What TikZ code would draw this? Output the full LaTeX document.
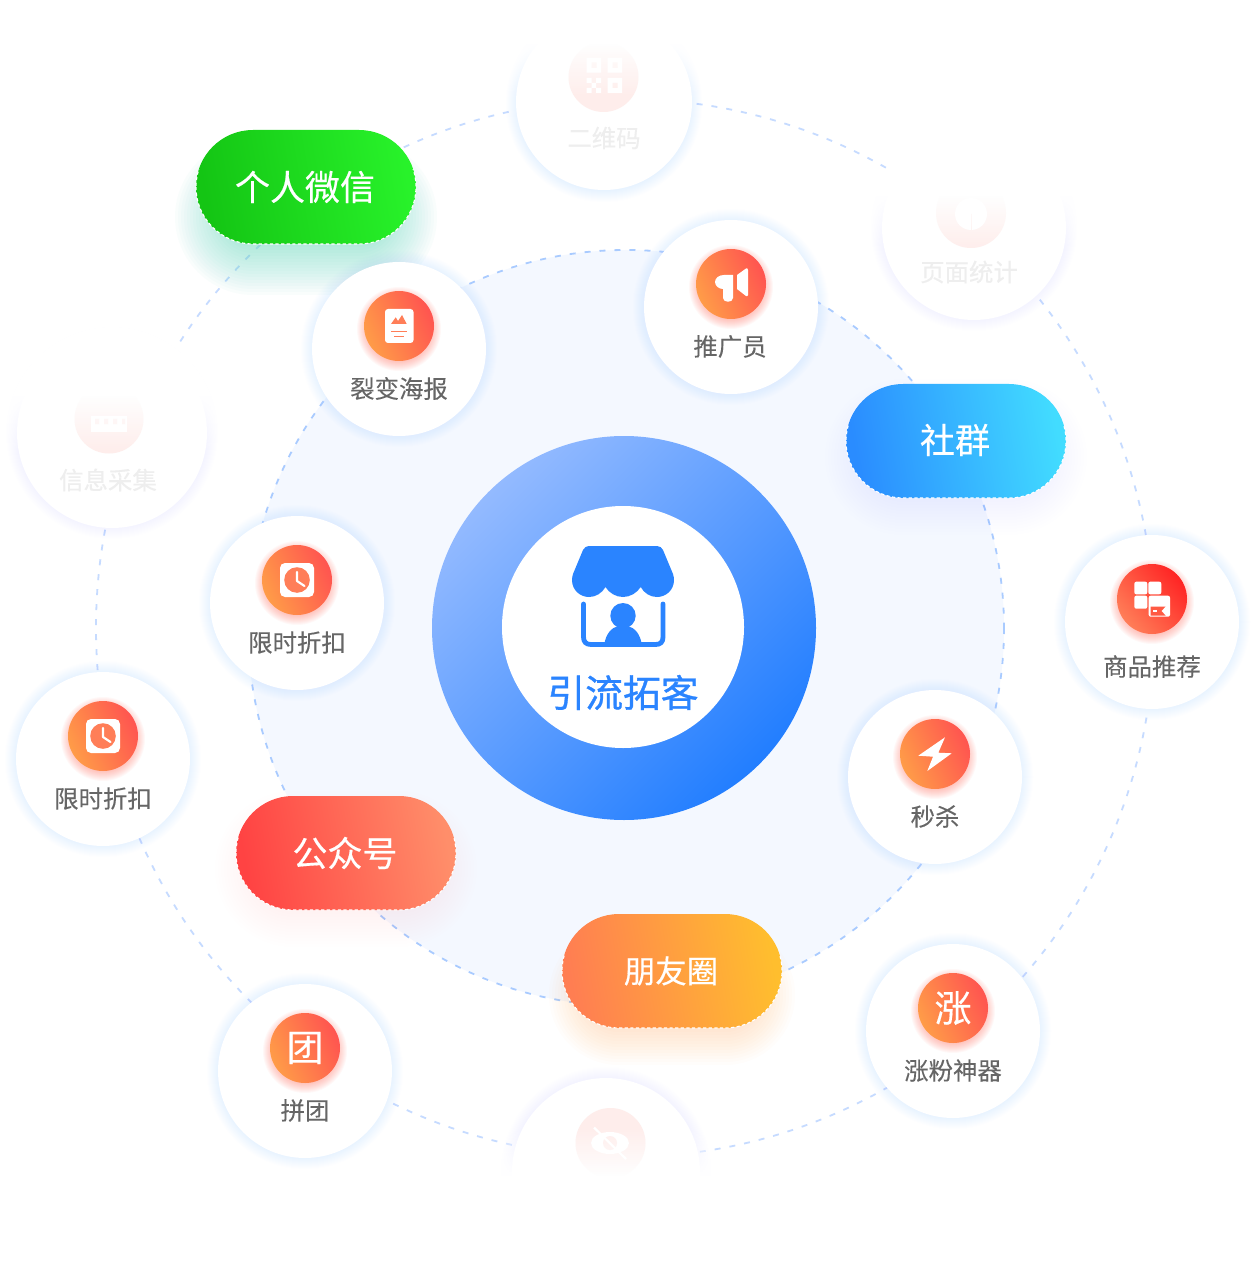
\documentclass[tikz,border=0pt]{standalone}
\usepackage{fontspec}
\newfontfamily\cjk{Noto Sans CJK SC}[FakeBold=0.2]
\newfontfamily\cjkp{Noto Sans CJK SC}[FakeBold=0.4]
\newfontfamily\cjkm{Noto Sans CJK SC}[FakeBold=0.9]
\definecolor{dashA}{HTML}{A9CBFF}
\definecolor{dashB}{HTML}{C6DBFF}
\definecolor{paleBg}{HTML}{F4F8FF}
\definecolor{shadowB}{HTML}{B0D0FF}
\definecolor{iconA}{HTML}{FF9C48}
\definecolor{iconB}{HTML}{FF5450}
\definecolor{iconC}{HTML}{FF7E58}
\definecolor{iconD}{HTML}{FF2424}
\definecolor{glow}{HTML}{FF5A48}
\definecolor{pink}{HTML}{FEEDEB}
\definecolor{labelG}{HTML}{666666}
\definecolor{fadeG}{HTML}{EEEEEE}
\definecolor{brand}{HTML}{2A84FF}
\definecolor{ringA}{HTML}{93BAFF}
\definecolor{ringB}{HTML}{227EFF}
\definecolor{shGreen}{HTML}{5AD8BE}
\definecolor{shBlue}{HTML}{3A9CFF}
\definecolor{shRed}{HTML}{FF6A5A}
\definecolor{shOrange}{HTML}{FFA24A}
\definecolor{pgA}{HTML}{14C514}
\definecolor{pgB}{HTML}{28F22A}
\definecolor{pbA}{HTML}{2A8CFF}
\definecolor{pbB}{HTML}{42DCFF}
\definecolor{prA}{HTML}{FF4343}
\definecolor{prB}{HTML}{FF8E6A}
\definecolor{poA}{HTML}{FF7E52}
\definecolor{poB}{HTML}{FFBE2E}
\tikzset{
  lab/.style={font=\cjk\fontsize{12.2}{14}\selectfont,text=labelG,inner sep=0pt},
  fadelab/.style={font=\cjk\fontsize{12.2}{14}\selectfont,text=fadeG,inner sep=0pt},
  pilltxt/.style={font=\cjkp\fontsize{#1}{20}\selectfont,text=white,inner sep=0pt},
  icongrad/.style={bottom color=iconA,top color=iconB,shading angle=-65},
  icongradred/.style={bottom color=iconC,top color=iconD,shading angle=-50},
  pillbody/.style={rounded corners=28.5pt,draw=white,line width=.55pt,dash pattern=on 1.6pt off 1.2pt},
  orbit/.style={line width=.9pt,dash pattern=on 3pt off 4.5pt}
}
% soft round shadow: x y r colour opacity
\newcommand\softdisc[5]{\foreach \k in {0,...,11}{\fill[#4,fill opacity=#5] (#1,#2) circle[radius=#3+\k];}}
\newcommand\softglow[2]{\foreach \k in {0,...,11}{\fill[glow,fill opacity=.04] (#1,#2+3) circle[radius=31+\k];}}
% soft pill shadow: cx cy colour opacity dy base-radius
\newcommand\softpill[6]{\foreach \k in {0,3,...,48}{\draw[#3,draw opacity=#4,line cap=round,line width=(#6+\k)*1pt] (#1-53,#2+#5)--(#1+53,#2+#5);}}
% white satellite: name x y
\newcommand\sat[3]{\softdisc{#2}{#3}{87}{shadowB}{.021}\fill[white] (#2,#3) circle[radius=87];\coordinate (#1) at (#2,#3);}
\newcommand\clockicon[2]{\begin{scope}[shift={(#1,#2)}]
  \fill[white,rounded corners=2.5pt] (-17,-17) rectangle (17,17);
  \fill[iconC] (0,0) circle[radius=12.8];
  \draw[white,line width=1.1pt,line cap=round,line join=round] (0,-8)--(0,1)--(7.5,6);
\end{scope}}
% fade by white strips: cx cy clip-radius y0 direction count
\newcommand\fadeband[6]{\begin{scope}\clip (#1,#2) circle[radius=#3];
  \ifnum#5>0 \fill[white] (#1-#3,#2-#3) rectangle (#1+#3,#4);
  \else \fill[white] (#1-#3,#2+#3) rectangle (#1+#3,#4);\fi
  \foreach \k in {1,...,#6}{\pgfmathsetmacro\op{1-\k/(#6+1)}
    \fill[white,fill opacity=\op] (#1-#3,#4+#5*\k*2-#5*2) rectangle (#1+#3,#4+#5*\k*2);}
\end{scope}}
% pill: left top colourA colourB ; dashed rim only on its lower part
\newcommand\pill[4]{\shade[bottom color=#3,top color=#4,shading angle=-80,rounded corners=28.5pt] (#1,#2) rectangle (#1+220,#2+114);
  \begin{scope}\clip (#1-2,#2+40) rectangle (#1+222,#2+116);\draw[pillbody] (#1,#2) rectangle (#1+220,#2+114);\end{scope}}
\begin{document}
\begin{tikzpicture}[x=0.5pt,y=-0.5pt]
\useasboundingbox (0,0) rectangle (1258,1272);
\fill[white] (0,0) rectangle (1258,1272);
% outer orbit
\draw[dashB,orbit] (625,628) circle[radius=529];
% faded satellites
\softdisc{604}{104}{87}{shadowB}{.018}
\fill[white] (604,102) circle[radius=88];
\fill[pink] (603.5,77) circle[radius=35];
\fill[white] (586.5,58) rectangle (601,72.7) (607.7,58) rectangle (622,72.7) (607.7,78) rectangle (622,93);
\fill[pink] (591.5,62.5) rectangle (596.5,68) (612.5,62.5) rectangle (617.5,68) (612.5,83) rectangle (617.5,88);
\fill[white] (586.5,78) rectangle (591.5,83) (596,78) rectangle (601,83) (591.5,83) rectangle (596,88) (586.5,88) rectangle (591.5,93) (596,88) rectangle (601,93);
\node[fadelab] (qrlab) at (604,138) {二维码};
\fadeband{604}{102}{100}{44}{1}{26}

\softdisc{974}{228}{92}{shadowB}{.007}
\fill[white] (974,228) circle[radius=92];
\fill[pink] (971,213) circle[radius=35];
\fill[white] (971,214) circle[radius=16];
\draw[pink,line width=.5pt] (971,214)--(971,231);
\node[fadelab] (statlab) at (969,272) {页面统计};
\fadeband{974}{228}{105}{196}{1}{27}

\softdisc{112}{433}{95}{shadowB}{.004}
\fill[white] (112,433) circle[radius=95];
\fill[pink] (109,419) circle[radius=34.5];
\fill[white] (91,416) rectangle (127,432);
\fill[pink] (95,419) rectangle (99,424) (104,419) rectangle (108,424) (113,419) rectangle (117,424) (122,419) rectangle (125,424);
\node[fadelab] (infolab) at (108,480) {信息采集};
\fadeband{112}{433}{106}{396}{1}{28}

\softdisc{606}{1172}{94}{shadowB}{.012}
\fill[white] (606,1172) circle[radius=94];
\fill[pink] (610.5,1143) circle[radius=35];
\fill[white] (610,1143) ellipse[x radius=19,y radius=11];
\fill[pink] (610,1143) circle[radius=7];
\draw[white,line width=1.1pt] (594,1127.5)--(626,1159);
\fadeband{606}{1172}{108}{1176}{-1}{24}
% inner pale disc
\fill[paleBg] (626,628) circle[radius=378];
\draw[dashA,orbit] (626,628) circle[radius=378];
% shadows of pills
\softpill{306}{187}{shGreen}{.03}{30}{30}
\softpill{956}{441}{shBlue}{.005}{16}{30}
\softpill{346}{853}{shRed}{.005}{16}{30}
\softpill{672}{971}{shOrange}{.02}{24}{22}
% centre
\path[shade,bottom color=ringA,top color=ringB,shading angle=-135] (624,628) circle[radius=192];
\fill[white] (623,627) circle[radius=121];
\fill[brand] (590,546)--(657,546) .. controls (660,546) and (662,548) .. (663,550)--(673,574) .. controls (673.6,576) and (674,578) .. (674,580) .. controls (674,590) and (666,597) .. (657,597) .. controls (650,597) and (644,593) .. (640.7,587) .. controls (637,593) and (630,597) .. (623,597) .. controls (616,597) and (609,593) .. (605.5,587) .. controls (602,593) and (596,597) .. (589,597) .. controls (580,597) and (572,590) .. (572,580) .. controls (572,578) and (572.5,576) .. (573,574)--(583,550) .. controls (584,548) and (586,546) .. (590,546)--cycle;
\draw[brand,line width=2.4pt,line cap=round] (583.5,604)--(583.5,637) .. controls (583.5,642) and (586,644.5) .. (591,644.5)--(655.5,644.5) .. controls (660.5,644.5) and (663,642) .. (663,637)--(663,604);
\fill[brand] (623,615.7) circle[radius=12.7];
\fill[brand] (604.3,644)  .. controls (606,634) and (611,628) .. (618,626)--(628,626) .. controls (635,628) and (640,634) .. (641.7,644)--cycle;
\node[font=\cjkm\fontsize{18.9}{20}\selectfont,text=brand,inner sep=0pt] (core) at (623,692.5) {引流拓客};
% satellites
\sat{tg}{731}{307}
\softglow{731}{284}\path[shade,icongrad] (731,284) circle[radius=35];
\fill[white] (733,275)--(724,275) .. controls (719,275) and (715,278) .. (715,282) .. controls (715,286) and (719,289) .. (723,289)--(723,298) .. controls (723,303) and (733,303) .. (733,298)--cycle;
\fill[white] (737,275)--(746,268.5) .. controls (747,268) and (748,268.5) .. (748,270)--(748,295) .. controls (748,296) and (747,296.5) .. (746,296)--(737,289)--cycle;
\node[lab] (tgl) at (730,346.5) {推广员};

\sat{lb}{399}{349}
\softglow{399}{326}\path[shade,icongrad] (399,326) circle[radius=35];
\fill[white,rounded corners=1.5pt] (385,309) rectangle (413.5,343);
\fill[iconC] (391,324)--(395.7,317.3)--(398,321)--(402,315)--(406.7,324)--cycle;
\draw[iconC,line width=.5pt] (391,331.5)--(407,331.5) (394,336.5)--(404,336.5);
\node[lab] (lbl) at (399,388.5) {裂变海报};

\sat{xs}{297}{603}
\softglow{297}{580}\path[shade,icongrad] (297,580) circle[radius=35];
\clockicon{297}{580}
\node[lab] (xsl) at (297,642.5) {限时折扣};

\sat{ms}{935}{777}
\softglow{935}{754}\path[shade,icongrad] (935,754) circle[radius=35];
\fill[white] (945,737.3)--(918.3,755.7)--(933,756.7)--(927.3,771)--(951.7,753.3)--(938.3,752.7)--cycle;
\node[lab] (msl) at (935,816.5) {秒杀};

\sat{sp}{1152}{622}
\softglow{1152}{599}\path[shade,icongradred] (1152,599) circle[radius=35];
\fill[white,rounded corners=1pt] (1134.3,581.7) rectangle (1147.3,594.3) (1148.3,581.7) rectangle (1161.3,594.3) (1134.3,595.7) rectangle (1147.3,608.7) (1148.7,595.7) rectangle (1170,616.7);
\fill[iconC!60!iconD] (1150.5,606.5)--(1165.5,606.5)--(1161.5,611)--(1165.5,615.5)--(1150.5,615.5)--cycle;
\fill[white] (1153,610) rectangle (1157,611.5);
\node[lab] (spl) at (1152,666.5) {商品推荐};

\sat{xw}{103}{759}
\softglow{103}{736}\path[shade,icongrad] (103,736) circle[radius=35];
\clockicon{103}{736}
\node[lab] (xwl) at (103,798.5) {限时折扣};

\sat{pt}{305}{1071}
\softglow{305}{1048}\path[shade,icongrad] (305,1048) circle[radius=35];
\node[pilltxt=18.4] (pti) at (305,1048) {团};
\node[lab] (ptl) at (305,1110.5) {拼团};

\sat{zf}{953}{1031}
\softglow{953}{1008}\path[shade,icongrad] (953,1008) circle[radius=35];
\node[pilltxt=18.5] (zfi) at (953,1008) {涨};
\node[lab] (zfl) at (953,1070.5) {涨粉神器};
% pills
\pill{196}{130}{pgA}{pgB}
\node[pilltxt=17.5] (wx) at (305,187) {个人微信};
\pill{846}{384}{pbA}{pbB}
\node[pilltxt=17.5] (qun) at (955,440) {社群};
\pill{236}{796}{prA}{prB}
\node[pilltxt=17.5] (gzh) at (345,853) {公众号};
\pill{562}{914}{poA}{poB}
\node[pilltxt=15.7] (pyq) at (671,971) {朋友圈};
\end{tikzpicture}
\end{document}
